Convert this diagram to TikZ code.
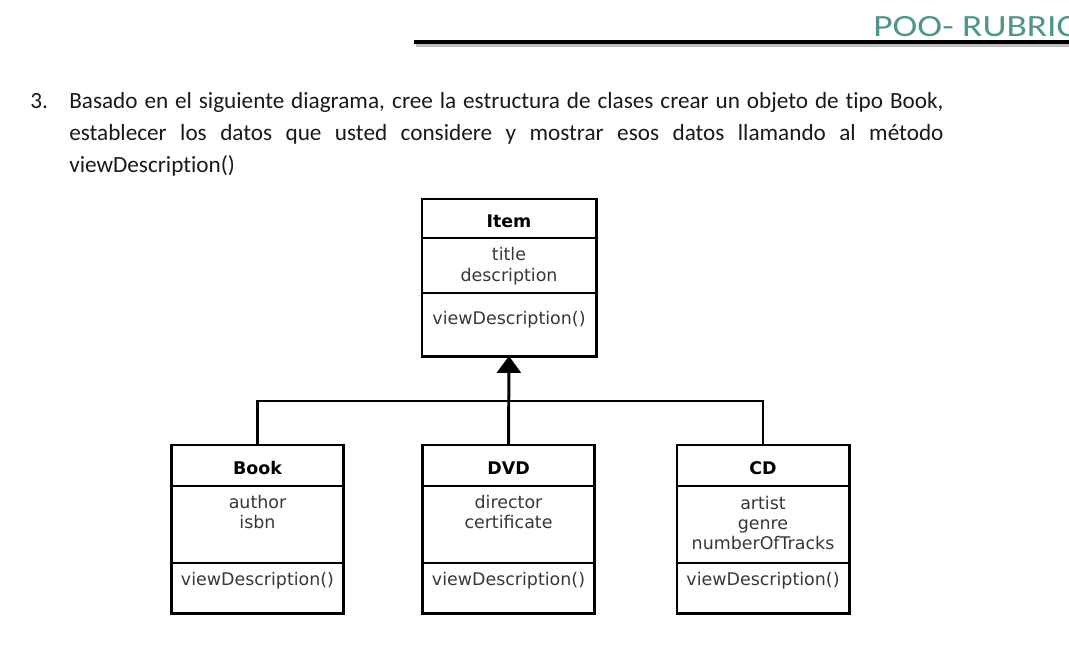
\documentclass[tikz,border=0pt]{standalone}
\usepackage{fontspec}
\setmainfont{Carlito}[Ligatures=NoCommon]
\newfontfamily\umlfont{DejaVu Sans}
\usetikzlibrary{arrows.meta}
\definecolor{rubricteal}{RGB}{78,150,140}
\definecolor{umltext}{RGB}{55,55,55}
\definecolor{bodytext}{RGB}{25,25,25}

\begin{document}
\begin{tikzpicture}[x=0.025cm,y=-0.025cm,
    umlline/.style={line width=2.1pt},
    classbox/.style={draw, umlline, minimum width=4.3cm, minimum height=4.2cm, inner sep=0pt, outer sep=0pt},
    classname/.style={font=\umlfont\bfseries\fontsize{12.4}{14}\selectfont, text=black, inner sep=0pt},
    classtext/.style={font=\umlfont\fontsize{12.4}{14.5}\selectfont, text=umltext, align=center, inner sep=0pt},
    bodyline/.style={anchor=base west, font=\fontsize{16.5}{23}\selectfont, text=bodytext, inner sep=0pt}]

    \useasboundingbox (0,0) rectangle (1069,652);
    \clip (0,0) rectangle (1069,652);

    % header
    \node[anchor=base west, font=\fontsize{22}{26}\selectfont, text=rubricteal, inner sep=0pt, xscale=1.21] (header) at (873,36) {POO- RUBRIC};
    \draw[line width=2pt, black!25] (416,45.5) -- (1069,45.5);
    \draw[line width=3pt] (414,42) -- (1069,42);

    % question
    \node[bodyline] (num) at (30,108) {3.};
    \node[bodyline] (q1) at (69,108) {\makebox[21.85cm][s]{Basado en el siguiente diagrama, cree la estructura de clases crear un objeto de tipo Book,}};
    \node[bodyline] (q2) at (69,140) {\makebox[21.85cm][s]{establecer los datos que usted considere y mostrar esos datos llamando al método}};
    \node[bodyline] (q3) at (69,172) {viewDescription()};

    % Item
    \node[classbox, minimum width=4.35cm, minimum height=3.925cm] (item) at (509,277.5) {};
    \draw[umlline] (item.west |- 0,238) -- (item.east |- 0,238);
    \draw[umlline] (item.west |- 0,293) -- (item.east |- 0,293);
    \node[classname] (itemname) at (509,221) {Item};
    \node[classtext] (itemattr) at (509,266) {title\\description};
    \node[classtext] (itemops) at (509,320) {viewDescription()};

    % Book
    \node[classbox] (book) at (257.5,529) {};
    \draw[umlline] (book.west |- 0,486) -- (book.east |- 0,486);
    \draw[umlline] (book.west |- 0,563) -- (book.east |- 0,563);
    \node[classname] (bookname) at (257.5,468) {Book};
    \node[classtext] (bookattr) at (257.5,512) {author\\isbn};
    \node[classtext] (bookops) at (257.5,581) {viewDescription()};

    % DVD
    \node[classbox] (dvd) at (508.5,529) {};
    \draw[umlline] (dvd.west |- 0,486) -- (dvd.east |- 0,486);
    \draw[umlline] (dvd.west |- 0,563) -- (dvd.east |- 0,563);
    \node[classname] (dvdname) at (508.5,468) {DVD};
    \node[classtext] (dvdattr) at (508.5,512) {director\\certificate};
    \node[classtext] (dvdops) at (508.5,581) {viewDescription()};

    % CD
    \node[classbox] (cd) at (763,529) {};
    \draw[umlline] (cd.west |- 0,486) -- (cd.east |- 0,486);
    \draw[umlline] (cd.west |- 0,563) -- (cd.east |- 0,563);
    \node[classname] (cdname) at (763,468) {CD};
    \node[classtext] (cdattr) at (763,523) {artist\\genre\\numberOfTracks};
    \node[classtext] (cdops) at (763,581) {viewDescription()};

    % inheritance
    \coordinate (bus) at (510,401);
    \draw[umlline] (book.north) |- (bus) -| (cd.north);
    \draw[umlline, -{Triangle[width=17pt,length=12pt]}] (dvd.north) -- (item.south);

\end{tikzpicture}
\end{document}
